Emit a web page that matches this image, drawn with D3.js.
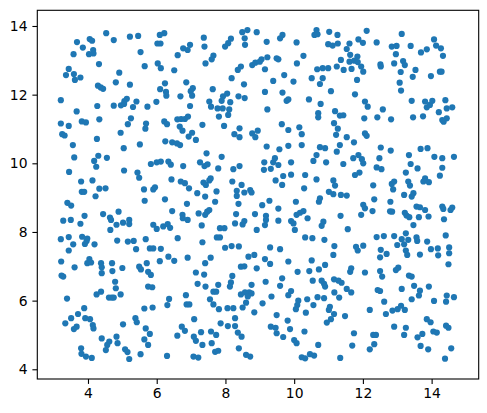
<!DOCTYPE html>
<html><head><meta charset="utf-8">
<script src="https://cdn.jsdelivr.net/npm/d3@7"></script>
<style>body{margin:0;background:#fff}svg{display:block}</style>
</head><body>
<svg id="chart" width="487" height="413"></svg>
<script>
// Scatter points, grouped by area ([x, y])
const topBand1 = [[4.53,13.79],[3.68,13.53],[4.05,13.62],[4.12,13.57],[4.75,13.59],[5.22,13.69],[5.46,13.71],[3.85,13.37],[3.58,13.18],[4.03,13.18],[4.15,13.30],[4.16,13.20],[5.53,13.24],[4.32,12.89],[5.65,12.83],[3.44,12.75],[3.36,12.57],[3.59,12.60],[3.62,12.43],[3.78,12.50],[4.91,12.64],[4.81,12.36],[5.22,12.29],[4.29,12.26],[4.37,12.21],[4.44,12.17],[3.21,11.84],[5.13,11.88],[5.06,11.81],[5.41,11.80],[4.27,11.67],[4.75,11.68],[4.96,11.69],[5.05,11.73],[5.31,11.64],[5.73,11.65],[3.67,11.51],[4.33,11.28],[5.25,11.31],[3.82,11.22],[3.94,11.19],[3.21,11.16],[3.44,11.09],[5.16,11.14],[5.69,11.16],[5.67,11.01]];
const topBand2 = [[6.09,13.74],[6.22,13.79],[6.02,13.49],[6.11,13.49],[7.37,13.66],[7.39,13.40],[8.16,13.63],[8.08,13.50],[7.99,13.40],[8.49,13.82],[8.64,13.88],[8.56,13.64],[8.57,13.45],[8.91,13.82],[6.77,13.35],[6.90,13.30],[6.97,13.45],[6.61,13.15],[7.65,13.14],[7.60,13.03],[7.42,12.91],[6.03,12.91],[6.12,12.77],[6.51,12.71],[8.45,12.82],[8.36,12.72],[8.78,12.86],[8.87,12.93],[8.18,12.48],[6.24,12.33],[6.10,12.16],[6.27,12.08],[6.28,11.97],[6.86,12.36],[7.05,12.19],[6.99,12.10],[7.03,11.97],[7.63,12.16],[8.54,12.30],[6.69,11.95],[5.99,11.79],[6.97,11.67],[7.53,11.80],[7.58,11.65],[7.93,11.95],[8.05,12.03],[7.89,11.82],[8.14,11.78],[8.38,11.95],[8.56,11.90],[7.77,11.60],[7.92,11.60],[8.11,11.57],[7.81,11.36],[8.08,11.41],[6.22,11.22],[6.30,11.14],[6.60,11.28],[6.71,11.29],[6.82,11.29],[6.91,11.36],[6.67,11.07],[6.75,10.95],[7.33,11.12],[7.96,11.09],[8.41,11.02],[8.94,10.95]];
const topBand3 = [[9.20,13.54],[9.59,13.64],[9.66,13.74],[10.07,13.52],[10.65,13.88],[10.59,13.74],[10.68,13.76],[11.02,13.83],[11.26,13.74],[10.99,13.47],[11.12,13.43],[11.27,13.49],[11.61,13.49],[11.53,13.33],[11.87,13.61],[12.00,13.51],[12.11,13.86],[9.05,13.03],[9.00,12.96],[9.22,13.09],[9.49,13.06],[9.54,13.03],[9.15,12.74],[10.08,12.91],[10.27,13.13],[9.71,12.57],[9.39,12.40],[9.98,12.38],[10.51,12.48],[10.67,12.74],[10.83,12.77],[10.99,12.77],[11.24,12.82],[10.83,12.48],[10.75,12.31],[11.36,13.01],[11.44,12.72],[11.63,13.16],[11.61,12.96],[11.75,12.99],[11.84,13.11],[11.85,12.95],[11.67,12.75],[11.95,12.82],[12.01,12.67],[11.83,12.43],[9.15,12.08],[9.66,12.06],[9.78,11.82],[9.83,11.86],[11.07,12.10],[11.77,12.01],[10.43,11.86],[12.06,11.80],[12.14,11.65],[9.22,11.57],[10.77,11.73],[10.70,11.46],[10.70,11.34],[11.19,11.52],[11.33,11.39],[11.43,11.40],[12.04,11.31],[9.64,11.14],[9.83,10.97],[10.15,11.05],[11.16,11.17],[11.27,11.01]];
const topBand4 = [[13.13,13.77],[12.40,13.52],[12.84,13.40],[12.98,13.42],[12.96,13.18],[13.39,13.42],[14.07,13.61],[14.13,13.43],[14.27,13.35],[13.86,13.32],[13.69,13.23],[14.33,13.13],[12.91,12.91],[12.51,12.88],[12.52,12.82],[13.17,12.98],[13.22,12.86],[13.10,12.66],[13.53,12.72],[13.45,12.52],[13.98,12.54],[14.24,12.67],[14.29,12.67],[13.07,12.35],[13.11,12.12],[13.42,11.82],[13.81,11.80],[13.86,11.63],[13.95,11.70],[14.02,11.82],[14.40,11.84],[14.44,11.60],[14.60,11.63],[14.21,11.49],[12.58,11.57],[12.42,11.34],[12.82,11.28],[13.46,11.34],[13.75,11.37],[14.31,11.26],[14.44,11.31],[14.35,11.21]];
const midBand1 = [[3.25,10.85],[3.32,10.81],[4.95,10.89],[4.26,10.71],[3.56,10.53],[5.51,10.55],[5.04,10.44],[3.60,10.17],[4.30,10.22],[4.18,10.07],[4.24,9.90],[4.55,10.16],[3.45,9.75],[5.05,9.79],[5.44,9.73],[5.49,9.58],[3.80,9.47],[4.13,9.50],[3.82,9.17],[3.89,9.17],[4.33,9.26],[4.51,9.27],[4.22,9.04],[5.63,9.24],[5.65,8.91],[3.40,8.85],[3.51,8.77],[4.44,8.52],[4.89,8.59],[4.64,8.42],[4.67,8.35],[3.28,8.33],[3.50,8.35],[3.90,8.47],[3.78,8.24],[5.02,8.27],[5.20,8.35],[5.20,8.23],[4.83,8.21],[4.65,8.06],[3.21,7.79],[3.44,7.85],[3.57,7.64],[3.83,7.86],[3.98,7.81],[3.91,7.65],[3.96,7.74],[4.19,7.64],[4.85,7.75],[5.16,7.72],[5.33,7.74],[5.68,7.79],[5.40,7.50],[3.44,7.46],[3.22,7.14],[4.04,7.21]];
const midBand2 = [[7.03,10.89],[6.93,10.78],[7.14,10.68],[6.25,10.64],[6.45,10.61],[6.59,10.58],[6.68,10.53],[8.26,10.85],[8.41,10.76],[8.78,10.87],[8.87,10.76],[7.45,10.29],[7.89,10.19],[5.83,9.98],[6.00,10.03],[6.12,10.05],[6.34,10.05],[6.41,9.96],[6.77,9.92],[7.26,10.03],[7.39,9.92],[7.48,9.97],[7.79,9.85],[8.41,9.92],[8.23,9.83],[6.43,9.53],[6.70,9.47],[6.82,9.42],[6.94,9.27],[7.36,9.44],[7.43,9.37],[7.53,9.50],[7.57,9.56],[7.18,9.13],[7.41,9.03],[7.74,9.18],[8.20,9.47],[8.47,9.37],[8.33,9.20],[8.33,9.05],[8.55,9.15],[8.72,9.22],[8.76,9.15],[5.95,9.30],[5.90,9.24],[6.24,8.95],[6.88,8.82],[7.70,8.88],[8.38,8.82],[6.45,8.61],[6.75,8.50],[6.76,8.40],[6.90,8.35],[7.22,8.54],[7.41,8.50],[7.47,8.59],[7.53,8.64],[8.31,8.52],[8.86,8.52],[7.31,8.19],[5.90,8.21],[6.00,8.09],[6.19,8.16],[6.32,8.23],[6.39,8.12],[7.84,8.11],[7.97,8.11],[8.28,8.25],[8.50,8.22],[8.55,8.32],[8.91,8.06],[6.61,7.82],[7.33,7.70],[7.75,7.84],[7.84,7.84],[7.99,7.54],[8.18,7.59],[8.39,7.58],[5.80,7.52],[5.90,7.52],[6.12,7.51],[8.67,7.28],[8.84,7.33],[6.34,7.28],[6.51,7.16],[6.09,7.15],[6.90,7.25],[7.57,7.25]];
const midBand3 = [[10.22,10.85],[11.22,10.83],[11.53,10.76],[12.06,10.87],[12.11,10.80],[11.74,10.61],[9.20,10.49],[9.57,10.41],[9.83,10.51],[10.22,10.53],[10.75,10.47],[10.90,10.44],[10.65,10.24],[10.56,10.07],[11.33,10.53],[11.24,10.34],[9.44,10.15],[9.39,10.03],[9.54,9.95],[9.13,10.03],[9.12,9.81],[9.32,9.84],[9.91,10.03],[10.93,10.03],[11.43,9.98],[11.72,10.15],[11.87,10.24],[11.97,10.12],[12.01,10.00],[11.77,9.66],[11.90,9.73],[9.68,9.63],[9.91,9.67],[10.32,9.66],[9.46,9.50],[9.65,9.37],[10.65,9.53],[11.14,9.50],[11.19,9.35],[10.29,9.27],[11.01,9.17],[11.14,9.10],[11.36,9.08],[11.53,9.06],[9.28,8.91],[9.07,8.78],[10.05,8.88],[10.75,8.98],[10.72,8.88],[12.01,8.79],[12.06,8.69],[9.54,8.68],[10.27,8.61],[10.17,8.56],[10.07,8.50],[9.18,8.47],[9.18,8.35],[9.15,8.20],[9.54,8.33],[9.91,8.32],[9.98,8.25],[10.39,8.40],[10.85,8.30],[10.80,8.18],[11.35,8.47],[11.95,8.50],[10.02,8.06],[11.56,8.08],[10.32,7.84],[10.53,7.82],[10.88,7.77],[9.30,7.55],[9.59,7.50],[11.17,7.59],[11.80,7.57],[12.01,7.60],[11.85,7.46],[11.14,7.33],[9.15,7.21],[9.83,7.14],[10.51,7.17]];
const midBand4 = [[12.52,10.46],[12.81,10.37],[13.68,10.42],[13.88,10.44],[13.34,10.24],[12.48,10.15],[14.08,10.19],[14.31,10.15],[14.65,10.19],[13.39,9.98],[12.40,9.88],[12.54,9.83],[13.59,9.85],[14.31,9.87],[13.25,9.73],[14.24,9.64],[13.81,9.56],[13.76,9.47],[13.92,9.45],[13.32,9.47],[13.37,9.35],[12.84,9.40],[12.91,9.47],[12.88,9.24],[12.30,9.36],[13.20,9.08],[13.42,9.03],[13.47,9.13],[12.33,8.95],[12.80,8.88],[13.56,8.74],[13.66,8.72],[13.81,8.64],[14.31,8.74],[14.34,8.67],[14.60,8.71],[14.55,8.64],[12.28,8.61],[12.79,8.60],[12.85,8.59],[13.22,8.56],[13.27,8.48],[13.35,8.43],[13.63,8.43],[13.91,8.45],[14.36,8.37],[13.47,8.20],[12.40,7.85],[12.61,7.88],[12.91,7.88],[13.13,7.79],[13.25,7.96],[13.32,7.77],[13.00,7.62],[13.20,7.64],[13.56,7.84],[13.58,7.74],[13.87,7.72],[13.98,7.50],[14.18,7.52],[14.41,7.90],[14.51,7.55],[12.52,7.48],[12.69,7.36],[12.50,7.26],[13.25,7.46],[13.29,7.33],[13.66,7.34],[14.19,7.32],[14.51,7.38]];
const lowBand1 = [[3.23,6.73],[3.28,6.70],[3.61,6.97],[3.98,7.09],[4.09,7.11],[4.38,7.09],[4.40,6.97],[4.40,6.80],[4.70,7.09],[4.71,6.86],[5.00,6.95],[5.49,6.99],[5.54,6.91],[5.71,7.09],[4.79,6.55],[4.81,6.36],[4.95,6.18],[4.25,6.18],[4.38,6.26],[4.61,6.09],[4.69,6.09],[4.75,6.09],[3.39,6.06],[3.89,5.78],[3.71,5.61],[3.51,5.49],[3.34,5.34],[3.59,5.17],[3.67,5.24],[3.92,5.49],[4.06,5.46],[4.14,5.29],[4.16,5.19],[5.02,5.31],[5.38,5.49],[5.42,5.37],[5.64,5.77],[5.68,5.19],[4.40,4.90],[4.62,4.81],[4.56,4.71],[4.52,4.56],[4.83,4.95],[4.86,4.76],[5.64,4.87],[3.80,4.61],[3.81,4.45],[3.94,4.37],[4.11,4.33],[5.08,4.58],[5.15,4.50],[5.20,4.30],[5.53,4.44]];
const lowBand2 = [[7.41,7.09],[8.45,6.99],[8.55,7.00],[8.91,6.94],[5.75,6.84],[5.83,6.75],[7.14,6.82],[7.38,6.76],[7.19,6.49],[7.42,6.41],[7.79,6.46],[7.65,6.26],[7.73,6.26],[8.20,6.72],[8.16,6.53],[8.13,6.41],[8.76,6.46],[8.45,6.18],[8.57,6.24],[8.69,6.24],[8.76,6.21],[8.65,6.12],[8.60,5.94],[5.75,6.41],[5.87,6.39],[6.85,6.16],[6.36,6.05],[6.31,5.87],[6.87,5.89],[6.95,5.89],[7.55,6.04],[7.65,5.89],[7.81,5.75],[8.06,5.78],[8.23,5.78],[8.50,5.80],[8.84,5.66],[5.88,5.80],[7.09,5.46],[7.86,5.34],[8.07,5.26],[8.28,5.49],[8.28,5.26],[6.73,5.24],[6.82,5.12],[6.60,4.98],[7.08,4.95],[7.14,4.83],[7.29,5.08],[7.58,5.10],[7.73,5.00],[7.60,4.76],[7.33,4.71],[8.36,5.07],[8.47,4.95],[8.39,4.61],[5.80,5.03],[5.75,4.71],[7.70,4.51],[7.79,4.54],[8.60,4.42],[8.72,4.37],[6.30,4.39],[7.07,4.37],[7.21,4.34]];
const lowBand3 = [[9.30,7.07],[10.90,7.04],[10.10,6.84],[10.44,6.86],[10.72,6.91],[11.63,6.84],[11.66,6.94],[12.06,6.82],[9.17,6.55],[9.65,6.65],[9.59,6.43],[10.54,6.58],[10.80,6.58],[10.87,6.49],[10.90,6.41],[11.16,6.62],[11.29,6.58],[11.38,6.52],[11.53,6.34],[11.66,6.24],[9.91,6.28],[9.83,6.16],[11.17,6.24],[9.34,6.12],[9.08,5.92],[10.68,6.10],[10.87,6.07],[10.38,6.04],[10.56,5.87],[10.12,6.00],[10.09,5.87],[10.05,5.75],[11.04,5.82],[11.01,5.73],[11.31,6.09],[10.34,5.65],[9.49,5.58],[9.81,5.42],[11.16,5.61],[11.07,5.46],[10.95,5.36],[11.48,5.55],[9.32,5.24],[9.46,5.21],[9.49,5.05],[9.88,5.17],[10.30,5.10],[9.68,4.94],[10.00,4.85],[10.07,4.76],[11.74,5.05],[10.70,4.71],[11.69,4.69],[10.22,4.35],[10.32,4.32],[10.46,4.44],[10.58,4.40],[11.34,4.33]];
const lowBand4 = [[12.50,6.86],[12.56,6.70],[12.96,6.89],[13.03,6.96],[13.34,6.73],[13.42,6.70],[14.49,7.06],[12.43,6.31],[12.50,6.28],[13.13,6.34],[13.49,6.43],[13.66,6.29],[13.63,6.15],[13.92,6.41],[12.62,5.97],[13.42,6.04],[14.07,5.99],[14.44,6.15],[14.42,5.97],[14.65,6.10],[12.20,5.73],[12.86,5.71],[13.01,5.75],[13.11,5.85],[13.22,5.73],[12.67,5.61],[13.86,5.46],[13.97,5.37],[12.91,5.24],[13.25,5.21],[13.20,5.00],[14.05,5.10],[14.15,5.07],[14.42,5.27],[14.49,5.21],[13.59,4.93],[13.73,5.03],[12.30,5.00],[12.38,5.00],[13.68,4.68],[13.90,4.58],[12.20,4.58],[12.33,4.73],[14.57,4.61],[14.39,4.31]];

const xTicks = [4, 6, 8, 10, 12, 14];
const yTicks = [4, 6, 8, 10, 12, 14];
const xDomain = [2.525, 15.37];
const yDomain = [3.717, 14.457];

const points = [].concat(topBand1, topBand2, topBand3, topBand4,
  midBand1, midBand2, midBand3, midBand4,
  lowBand1, lowBand2, lowBand3, lowBand4);

const L = 37.3, R = 478.7, T = 10.3, B = 379;
const svg = d3.select("#chart");
const x = d3.scaleLinear().domain(xDomain).range([L, R]);
const y = d3.scaleLinear().domain(yDomain).range([B, T]);

svg.append("g").selectAll("circle").data(points).join("circle")
  .attr("cx", d => x(d[0])).attr("cy", d => y(d[1]))
  .attr("r", 3.1).attr("fill", "#1f77b4");

const font = "DejaVu Sans, sans-serif";
const xAxis = svg.append("g").attr("transform", `translate(0,${B})`)
  .call(d3.axisBottom(x).tickValues(xTicks).tickFormat(d3.format("d"))
    .tickSize(4.9).tickPadding(4.4).tickSizeOuter(0));
const yAxis = svg.append("g").attr("transform", `translate(${L},0)`)
  .call(d3.axisLeft(y).tickValues(yTicks).tickFormat(d3.format("d"))
    .tickSize(4.9).tickPadding(4.9).tickSizeOuter(0));
[xAxis, yAxis].forEach(g => {
  g.select(".domain").remove();
  g.selectAll("line").attr("stroke", "#000").attr("stroke-width", 1.1);
  g.selectAll("text").attr("font-family", font).attr("font-size", 13.9).attr("fill", "#000");
});

svg.append("rect").attr("x", L).attr("y", T).attr("width", R - L).attr("height", B - T)
  .attr("fill", "none").attr("stroke", "#000").attr("stroke-width", 1.1);
</script>
</body></html>
